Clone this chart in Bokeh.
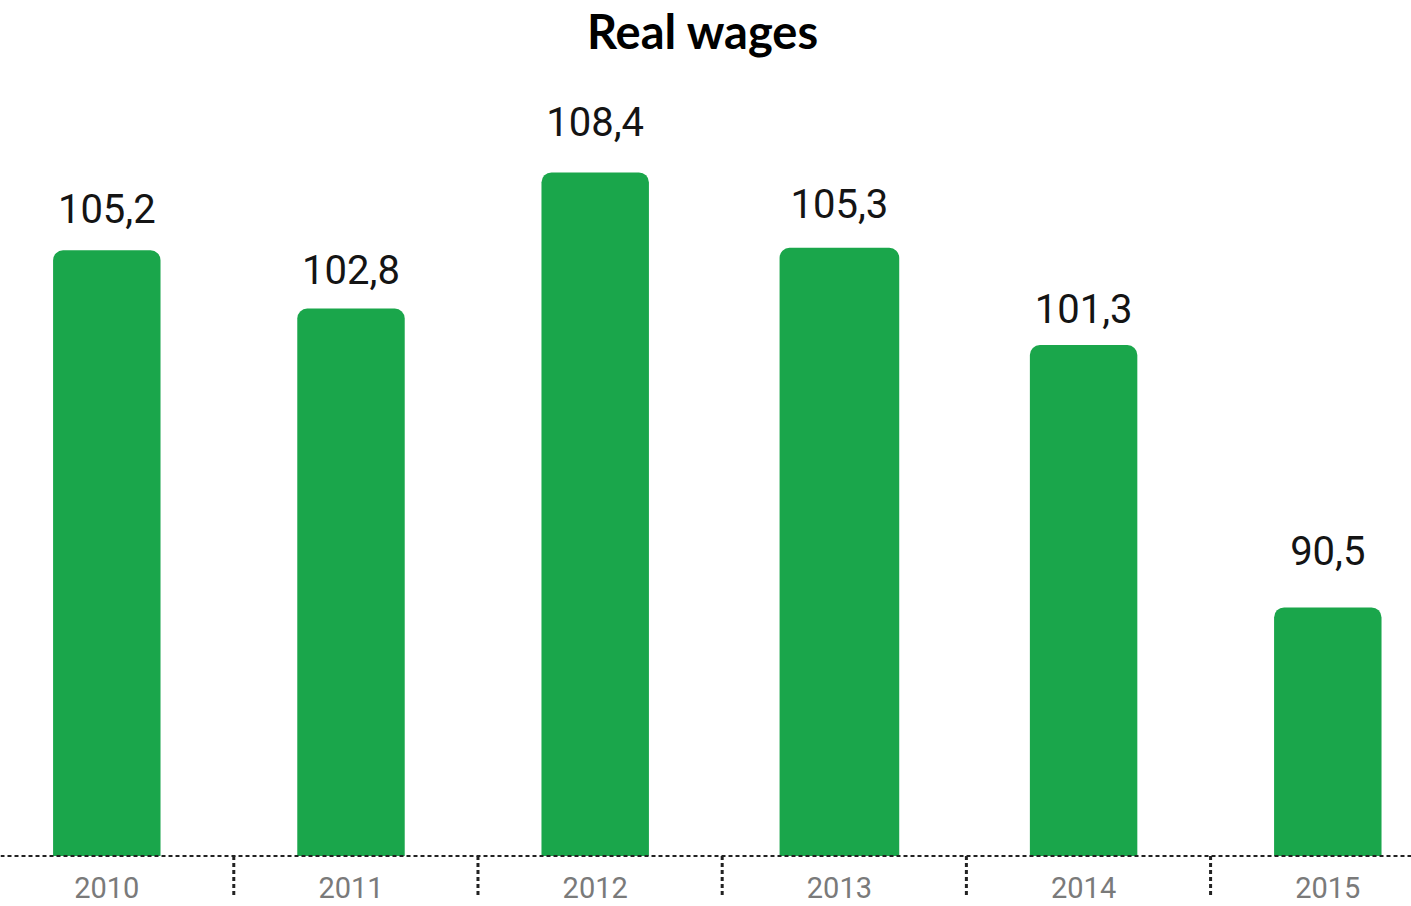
from bokeh.plotting import figure
from bokeh.models import ColumnDataSource, Range1d, Label
from bokeh.core.properties import value
from bokeh.embed import file_html
from bokeh.resources import INLINE

# ---- data ----
years = ["2010", "2011", "2012", "2013", "2014", "2015"]
values = [105.2, 102.8, 108.4, 105.3, 101.3, 90.5]
title_text = "Real wages"

# ---- styling ----
bar_widths = [0.44, 0.44, 0.44, 0.49, 0.44, 0.44]
label_gaps = [26, 23, 35, 28, 20, 41]      # px between value label baseline and bar top
TXT_FIX = 16                                # svg baseline correction (px)
GREEN = "#1aa64b"
W, H = 1411, 906
PX = 24.3                 # px per unit on the y scale
Y0 = 80.27                # baseline value
BASE_PX = 855.5           # baseline position from top (px)
UX = 244.2                # px per category
X0_PX = 106.3             # px of first category centre

y_start = Y0 - (H - BASE_PX) / PX
y_end = Y0 + BASE_PX / PX
x_start = -X0_PX / UX
x_end = (W - X0_PX) / UX

xs = list(range(len(years)))
src = ColumnDataSource(dict(
    x=xs,
    top=values,
    w=bar_widths,
    off=[-(g + TXT_FIX) for g in label_gaps],
    lab=[f"{v:.1f}".replace(".", ",") for v in values],
))

p = figure(width=W, height=H, output_backend="svg", toolbar_location=None,
           x_range=Range1d(x_start, x_end), y_range=Range1d(y_start, y_end),
           min_border=0, x_axis_location=None, y_axis_location=None)
p.outline_line_color = None
p.grid.visible = False
p.background_fill_color = "white"
p.border_fill_color = "white"

# bars
p.vbar(x="x", top="top", bottom=Y0, width="w", source=src,
       fill_color=GREEN, line_color=None,
       border_radius=dict(top_left=10, top_right=10, bottom_right=0, bottom_left=0))

# dotted baseline
p.segment(x0=[x_start], x1=[x_end], y0=[Y0], y1=[Y0],
          line_color="#222222", line_width=2, line_dash="4 3")

# dotted separators between categories
sep_x = [i + 0.52 for i in xs[:-1]]
p.segment(x0=sep_x, x1=sep_x, y0=[Y0] * len(sep_x), y1=[Y0 - 40 / PX] * len(sep_x),
          line_color="#222222", line_width=3, line_dash="4 3")

# value labels
p.text(x="x", y="top", text="lab", source=src, y_offset="off",
       text_align="center", text_baseline="alphabetic",
       text_font=value("Roboto"), text_font_size="40px", text_color="#141414")

# year labels
p.text(x=xs, y=[Y0 - 31.5 / PX] * len(xs), text=years,
       text_align="center", text_baseline="alphabetic",
       text_font=value("Roboto"), text_font_size="29px", text_color="#7a7a7a")

# title
p.add_layout(Label(x=W / 2 - 3, y=H - 30, x_units="screen", y_units="screen",
                   text=title_text, text_align="center", text_baseline="alphabetic",
                   text_font="Lato", text_font_style="bold", text_font_size="47px",
                   text_color="black"))

open("out.html", "w").write(file_html(p, INLINE))
